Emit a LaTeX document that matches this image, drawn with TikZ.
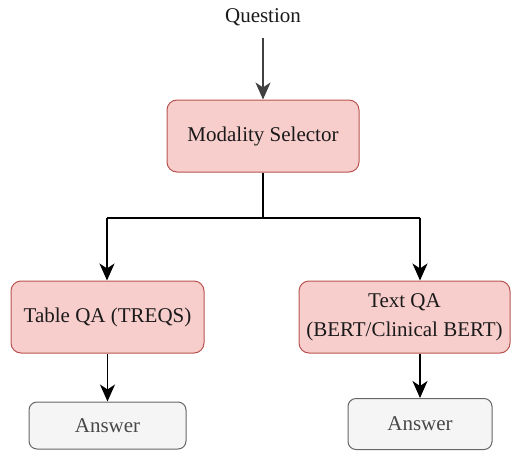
\documentclass[tikz,border=0pt]{standalone}
\usepackage{fontspec}
\setmainfont{Liberation Serif}
\usetikzlibrary{arrows.meta}
\definecolor{pinkfill}{HTML}{F8CECC}
\definecolor{pinkdraw}{HTML}{B85450}
\definecolor{grayfill}{HTML}{F5F5F5}
\definecolor{graydraw}{HTML}{666666}
\definecolor{txt}{HTML}{1A1A1A}
\tikzset{
  pinkbox/.style={draw=pinkdraw, fill=pinkfill, rounded corners=10pt, line width=1pt, inner sep=0pt, align=center, text=txt, font=\fontsize{21}{29}\selectfont},
  ansbox/.style={draw=graydraw, fill=grayfill, rounded corners=8pt, line width=1pt, inner sep=0pt, text=txt!80, font=\fontsize{21}{25}\selectfont},
  conn/.style={line width=1.2pt, -{Stealth[length=17pt, width=15pt, inset=5pt]}},
  plain/.style={line width=1.2pt}
}
\begin{document}
\begin{tikzpicture}[x=1pt, y=-1pt]
\useasboundingbox (0,0) rectangle (511,450);
\node[font=\fontsize{21}{25}\selectfont, text=txt, inner sep=0pt] (q) at (263,17) {Question};
\node[pinkbox, minimum width=192pt, minimum height=72pt] (ms) at (263,136) {Modality Selector};
\node[pinkbox, minimum width=193pt, minimum height=72pt] (tq) at (107.5,317) {Table QA (TREQS)};
\node[pinkbox, minimum width=211pt, minimum height=72pt] (xq) at (404.5,317) {Text QA\\(BERT/Clinical BERT)};
\node[ansbox, minimum width=157pt, minimum height=47pt] (a1) at (107.5,425.5) {Answer};
\node[ansbox, minimum width=144pt, minimum height=51pt] (a2) at (420,424) {Answer};
\coordinate (qs) at (263,38);
\coordinate (j) at (263,218);
\coordinate (jl) at (107,218);
\coordinate (jr) at (420,218);
\draw[conn, draw=black!75] (qs) -- (ms.north);
\draw[plain] (ms.south) -- (j);
\draw[plain] (jl) -- (jr);
\draw[conn] (jl) -- (jl |- tq.north);
\draw[conn] (jr) -- (jr |- xq.north);
\draw[conn] (tq.south -| a1.north) -- (a1.north);
\draw[conn] (jr |- xq.south) -- (a2.north);
\end{tikzpicture}
\end{document}
